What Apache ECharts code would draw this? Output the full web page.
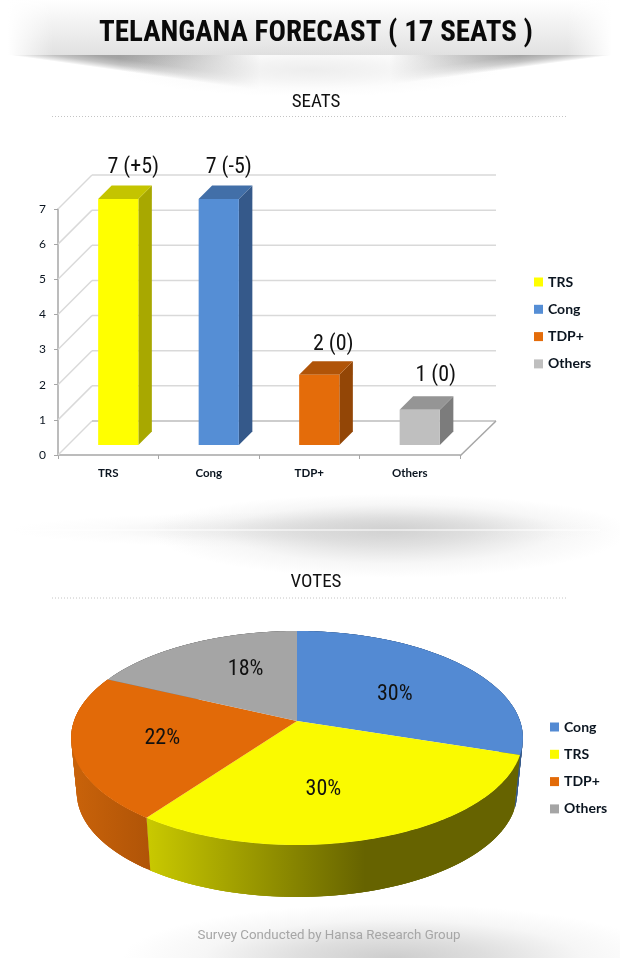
<!DOCTYPE html>
<html><head><meta charset="utf-8">
<style>html,body{margin:0;padding:0;background:#fff}#c{width:620px;height:958px}</style>
<script src="https://cdn.jsdelivr.net/npm/echarts@6/dist/echarts.min.js"></script>
</head><body><div id="c"></div>
<script>
// ---------- data ----------
const categories = ['TRS','Cong','TDP+','Others'];
const seatValues = [7,7,2,1];
const seatLabels = ['7 (+5)','7 (-5)','2 (0)','1 (0)'];
const seatTicks  = [0,1,2,3,4,5,6,7];
const voteNames  = ['Cong','TRS','TDP+','Others'];
const voteValues = [30,30,22,18];

// ---------- styles ----------
const NARROW = '"Liberation Sans Narrow","Roboto Condensed",Roboto,sans-serif';
const barFront = ['#FFFF00','#558ED5','#E46C0A','#BFBFBF'];
const barSide  = ['#A8A800','#35598A','#934606','#7C7C7C'];
const barTop   = ['#C4C400','#426FA8','#B05408','#959595'];
const pieTop   = ['#538AD3','#FAFA00','#E26A08','#A5A5A5'];
const pieSide  = [['#35598A','#35598A',490,522],['#C8C800','#666300',150,365],['#C8620A','#B05407',76,150],['#707070','#707070',100,300]];
const seatLabelNudge = [[15,-18],[10,-18],[14,-17],[16,-21]];
const labelNudge = [[-8,9],[-15,9],[-2,2],[17,-1]];
const labelRadius = [0.62,0.55,0.6,0.62];

const chart = echarts.init(document.getElementById('c'),null,{renderer:'canvas'});
const WALL = 34, FLOOR = 10, DEPTH = 13.5;

function wallItem(params, api){
  const cs = params.coordSys;
  const p = api.coord([0, api.value(0)]);
  const x0 = cs.x, y = p[1], xb = x0+WALL, yb = y-WALL, xe = cs.x+cs.width+WALL+2;
  const style = {stroke:'#d9d9d9',lineWidth:1.5,fill:null};
  return {type:'group',children:[
    {type:'line',shape:{x1:x0,y1:y,x2:xb,y2:yb},style},
    {type:'line',shape:{x1:xb,y1:yb,x2:xe,y2:yb},style:{stroke:api.value(0)===0?'#bdbdbd':'#d9d9d9',lineWidth:1.5}}
  ]};
}
function floorEdge(params){
  if(params.dataIndex!==0) return null;
  const cs = params.coordSys, y = cs.y+cs.height+1, x = cs.x+cs.width;
  return {type:'line',shape:{x1:x,y1:y,x2:x+WALL+2,y2:y-WALL-1},style:{stroke:'#a6a6a6',lineWidth:1.5}};
}
function barItem(params, api){
  const i = api.value(0), top = api.coord([i,api.value(1)]), base = api.coord([i,0]);
  const w = api.size([1,0])[0]*0.4;
  const xl = top[0]-w/2+FLOOR, xr = xl+w, yt = top[1]-FLOOR, yb = base[1]-FLOOR, d = DEPTH;
  return {type:'group',children:[
    {type:'polygon',shape:{points:[[xr,yt],[xr+d,yt-d],[xr+d,yb-d],[xr,yb]]},style:{fill:barSide[i]}},
    {type:'polygon',shape:{points:[[xl,yt],[xl+d,yt-d],[xr+d,yt-d],[xr,yt]]},style:{fill:barTop[i]}},
    {type:'rect',shape:{x:xl,y:yt,width:w,height:yb-yt},style:{fill:barFront[i]}},
    {type:'text',style:{x:top[0]+FLOOR+seatLabelNudge[i][0],y:yt-d+seatLabelNudge[i][1],text:seatLabels[i],textAlign:'center',textVerticalAlign:'middle',font:'22px '+NARROW,fill:'#111'}}
  ]};
}
// perspective disc: fraction of the total -> point on the rim
const PIE = {cx:297,cy:721,r:223,a:104.3,k:0.159,drop:55,shrink:0.975};
const total = voteValues.reduce((a,b)=>a+b,0);
function cumulative(i){let s=0;for(let j=0;j<i;j++)s+=voteValues[j];return s/total;}
function disc(f,rad,low){
  const t=f*2*Math.PI, u=rad*Math.sin(t), v=-rad*Math.cos(t), den=1-PIE.k*v;
  let x=PIE.r*u/den, y=PIE.a*v/den;
  if(low){x*=PIE.shrink;y=y*PIE.shrink+PIE.drop;}
  return [PIE.cx+x,PIE.cy+y];
}
function arc(i,low){
  const s=cumulative(i), e=s+voteValues[i]/total, pts=[], n=Math.ceil((e-s)*360);
  for(let j=0;j<=n;j++)pts.push(disc(s+(e-s)*j/n,1,low));
  return pts;
}
function pieSideItem(params){
  const i=params.dataIndex, g=pieSide[i], a=arc(i,false), b=arc(i,true), kids=[];
  const fill=new echarts.graphic.LinearGradient(g[2],0,g[3],0,[{offset:0,color:g[0]},{offset:1,color:g[1]}],true);
  for(let j=0;j<a.length-1;j++){
    const k=Math.min(j+3,a.length-1);
    kids.push({type:'polygon',shape:{points:[a[j],a[k],b[k],b[j]]},style:{fill}});
  }
  return {type:'group',children:kids};
}
function pieTopItem(params,api){
  const i=params.dataIndex, mid=cumulative(i)+api.value(0)/total/2, c=disc(mid,labelRadius[i],false);
  return {type:'group',children:[
    {type:'polygon',shape:{points:[[PIE.cx,PIE.cy]].concat(arc(i,false))},style:{fill:pieTop[i]}},
    {type:'text',style:{x:c[0]+labelNudge[i][0],y:c[1]+labelNudge[i][1],text:api.value(0)+'%',textAlign:'center',textVerticalAlign:'middle',font:'22px '+NARROW,fill:'#111'}}
  ]};
}

// ---------- background decoration ----------
const G = echarts.graphic;
function halo(x,y,r,sy,color,half,z){
  const a=parseFloat(color.match(/([\d.]+)\)$/)[1]), at=k=>color.replace(/[\d.]+\)$/,(a*k)+')');
  return {type:'sector',x,y,scaleY:sy,silent:true,z:z||-5,
    shape:{cx:0,cy:0,r,r0:0,startAngle:half==='up'?Math.PI:0,endAngle:half==='up'?2*Math.PI:(half==='down'?Math.PI:2*Math.PI)},
    style:{fill:new G.RadialGradient(0,0,r,[{offset:0,color:at(1)},{offset:0.35,color:at(0.65)},{offset:0.7,color:at(0.18)},{offset:1,color:at(0)}],true)}};
}
const wingStops=[{offset:0,color:'rgba(90,90,90,0)'},{offset:0.07,color:'rgba(90,90,90,0.14)'},{offset:0.2,color:'rgba(90,90,90,0.36)'},{offset:0.4,color:'rgba(90,90,90,0.55)'},{offset:1,color:'rgba(90,90,90,0.7)'}];
const dotted = y => ({type:'line',silent:true,shape:{x1:52,y1:y,x2:567,y2:y},style:{stroke:'#c4c4c4',lineWidth:1,lineDash:[1,2]}});
const background = [
  {type:'rect',silent:true,z:-8,shape:{x:8,y:0,width:604,height:55},style:{fill:new G.LinearGradient(0,0,0,1,[{offset:0,color:'rgba(225,225,225,0)'},{offset:1,color:'rgba(225,225,225,1)'}])}},
  {type:'rect',silent:true,z:-7,shape:{x:8,y:0,width:45,height:55},style:{fill:new G.LinearGradient(0,0,1,0,[{offset:0,color:'#fff'},{offset:1,color:'rgba(255,255,255,0)'}])}},
  {type:'rect',silent:true,z:-7,shape:{x:567,y:0,width:45,height:55},style:{fill:new G.LinearGradient(0,0,1,0,[{offset:0,color:'rgba(255,255,255,0)'},{offset:1,color:'#fff'}])}},
  {type:'polygon',silent:true,z:-7,shape:{points:[[8,55],[300,55],[300,96]]},style:{fill:new G.LinearGradient(8,55,12.2,25.3,wingStops,true)}},
  {type:'polygon',silent:true,z:-7,shape:{points:[[614,55],[320,55],[320,94]]},style:{fill:new G.LinearGradient(614,55,610,25.3,wingStops,true)}},
  {type:'rect',silent:true,z:-6,shape:{x:120,y:55,width:140,height:45},style:{fill:new G.LinearGradient(0,0,1,0,[{offset:0,color:'rgba(255,255,255,0)'},{offset:1,color:'#fff'}])}},
  {type:'rect',silent:true,z:-6,shape:{x:260,y:55,width:130,height:45},style:{fill:'#fff'}},
  {type:'rect',silent:true,z:-6,shape:{x:390,y:55,width:130,height:45},style:{fill:new G.LinearGradient(0,0,1,0,[{offset:0,color:'#fff'},{offset:1,color:'rgba(255,255,255,0)'}])}},
  halo(310,70,190,0.14,'rgba(205,205,205,0.35)','full',-5),
  halo(310,530,300,0.06,'rgba(200,200,200,0.35)','full'),
  halo(390,530,240,0.15,'rgba(208,208,208,1)','up'),
  halo(390,530,240,0.2,'rgba(208,208,208,0.95)','down'),
  {type:'line',silent:true,z:-3,shape:{x1:20,y1:530,x2:600,y2:530},style:{stroke:'#ffffff',lineWidth:1}},
  halo(393,958,270,0.2,'rgba(205,205,205,1)','up'),
  dotted(116.5), dotted(598)
];

const legendBase = {orient:'vertical',icon:'rect',itemWidth:9,itemHeight:9,itemGap:13.3,selectedMode:false,
  textStyle:{fontFamily:'Lato',fontWeight:'bold',fontSize:14,lineHeight:14,color:'#0b1520'}};

chart.setOption({
  animation:false,
  backgroundColor:'#fff',
  title:[
    {text:'TELANGANA FORECAST ( 17 SEATS )',left:311,top:14,textAlign:'center',textStyle:{fontFamily:NARROW,fontWeight:'bold',fontSize:29,color:'#0a0a0a'}},
    {text:'SEATS',left:311,top:88,textAlign:'center',textStyle:{fontFamily:NARROW,fontWeight:'normal',fontSize:19,color:'#111'}},
    {text:'VOTES',left:311,top:568,textAlign:'center',textStyle:{fontFamily:NARROW,fontWeight:'normal',fontSize:19,color:'#111'}},
    {text:'Survey Conducted by Hansa Research Group',left:324,top:924,textAlign:'center',textStyle:{fontFamily:'Roboto',fontWeight:'normal',fontSize:13.3,color:'#a6a6a6'}}
  ],
  grid:{left:58,top:209,width:402,height:246},
  xAxis:{type:'category',data:categories,
    axisLine:{lineStyle:{color:'#a6a6a6',width:1.5}},
    axisTick:{show:true,length:4,lineStyle:{color:'#a6a6a6'},alignWithLabel:false},
    axisLabel:{fontFamily:'Lato',fontWeight:'bold',fontSize:11.5,color:'#0b1520',margin:12,interval:0}},
  yAxis:{type:'value',min:0,max:7,interval:1,
    axisLine:{show:true,lineStyle:{color:'#a6a6a6',width:1.5}},
    axisTick:{show:true,length:4,lineStyle:{color:'#a6a6a6'}},
    splitLine:{show:false},
    axisLabel:{fontFamily:'Lato',fontSize:12,color:'#0b1520',margin:12,padding:[3,0,0,0],customValues:seatTicks}},
  legend:[
    Object.assign({},legendBase,{left:529,top:270,
      data:categories.map((n,i)=>({name:n,itemStyle:{color:barFront[i],opacity:1}}))}),
    Object.assign({},legendBase,{left:545,top:715,
      data:voteNames.map((n,i)=>({name:n,itemStyle:{color:pieTop[i],opacity:1}}))})
  ],
  graphic:background,
  series:[
    {type:'pie',name:'legendSource',silent:true,radius:[0,0],center:[-50,-50],label:{show:false},labelLine:{show:false},
      itemStyle:{opacity:0},data:voteNames.map((n,i)=>({name:n,value:voteValues[i]}))},
    {type:'custom',name:'walls',silent:true,coordinateSystem:'cartesian2d',z:1,renderItem:wallItem,data:seatTicks.map(v=>[v]),encode:{y:0}},
    {type:'custom',name:'edge',silent:true,coordinateSystem:'cartesian2d',z:1,renderItem:floorEdge,data:[[0,0]]},
    {type:'custom',name:'Seats',silent:true,coordinateSystem:'cartesian2d',z:3,renderItem:barItem,data:seatValues.map((v,i)=>[i,v]),encode:{x:0,y:1}},
    {type:'custom',name:'VoteSides',silent:true,coordinateSystem:'none',z:3,renderItem:pieSideItem,data:voteValues.map(v=>[v])},
    {type:'custom',name:'Votes',silent:true,coordinateSystem:'none',z:4,renderItem:pieTopItem,data:voteValues.map(v=>[v])}
  ]
});
</script></body></html>
